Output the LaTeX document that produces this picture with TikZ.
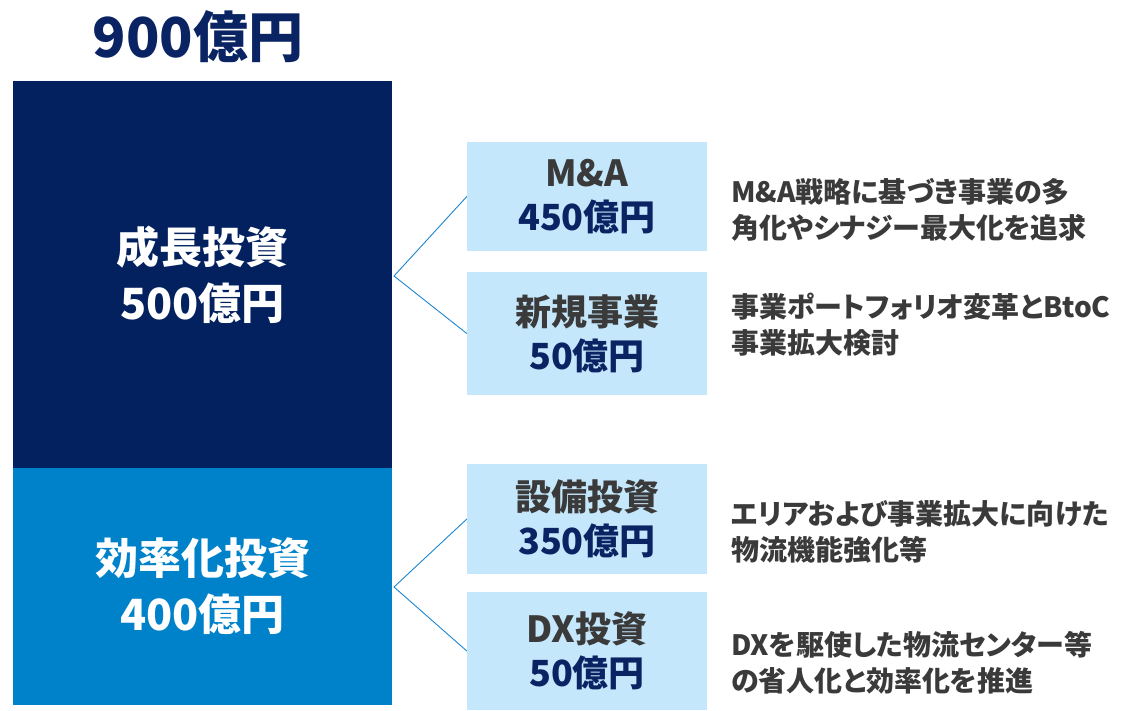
\documentclass[tikz,border=0pt]{standalone}
\usepackage{fontspec}
\setmainfont{Noto Sans CJK JP}[RawFeature=+palt]
\definecolor{navy}{HTML}{03215F}
\definecolor{midblue}{HTML}{0082CA}
\definecolor{lightblue}{HTML}{C5E7FC}
\definecolor{linkblue}{HTML}{1C86D0}
\definecolor{txtgray}{HTML}{3A3A3A}
\definecolor{amtnavy}{HTML}{0A2463}
\tikzset{
  bigbox/.style={inner sep=0pt, minimum width=379pt, text=white, align=center,
    font=\fontsize{43}{56}\selectfont\bfseries},
  itembox/.style={fill=lightblue, inner sep=0pt, minimum width=240pt, align=center,
    text=txtgray, font=\fontsize{36}{44}\selectfont\bfseries},
  desc/.style={anchor=west, inner sep=0pt, align=left, text=txtgray,
    font=\fontsize{28}{36.5}\selectfont\bfseries},
  link/.style={draw=linkblue, line width=0.9pt}
}
\begin{document}
\begin{tikzpicture}[x=1pt, y=-1pt]
\useasboundingbox (0,0) rectangle (1121,710);
\node[text=amtnavy, inner sep=0pt, font=\fontsize{55}{60}\selectfont\bfseries] (title) at (198,37) {900億円};
\node[bigbox, fill=navy, minimum height=387pt] (grow) at (202.5,274.5) {成長投資\\500億円};
\node[bigbox, fill=midblue, minimum height=237pt] (eff) at (202.5,586.5) {効率化投資\\400億円};
\node[itembox, minimum height=109pt] (ma) at (587,196.5) {M\&A\\\textcolor{amtnavy}{450億円}};
\node[itembox, minimum height=123pt] (newbiz) at (587,333.5) {新規事業\\\textcolor{amtnavy}{50億円}};
\node[itembox, minimum height=110pt] (capex) at (587,519) {設備投資\\\textcolor{amtnavy}{350億円}};
\node[itembox, minimum height=118pt] (dx) at (587,651) {DX投資\\\textcolor{amtnavy}{50億円}};
\coordinate (apexA) at (394,276);
\coordinate (apexB) at (394,587);
\draw[link] (ma.west) -- (apexA) -- (newbiz.west);
\draw[link] (capex.west) -- (apexB) -- (dx.west);
\node[desc] (d1) at (731,210) {M\&A戦略に基づき事業の多\\角化やシナジー最大化を追求};
\node[desc] (d2) at (731,324.5) {事業ポートフォリオ変革とBtoC\\事業拡大検討};
\node[desc] (d3) at (731,532) {エリアおよび事業拡大に向けた\\物流機能強化等};
\node[desc] (d4) at (731,662.5) {DXを駆使した物流センター等\\の省人化と効率化を推進};
\end{tikzpicture}
\end{document}
